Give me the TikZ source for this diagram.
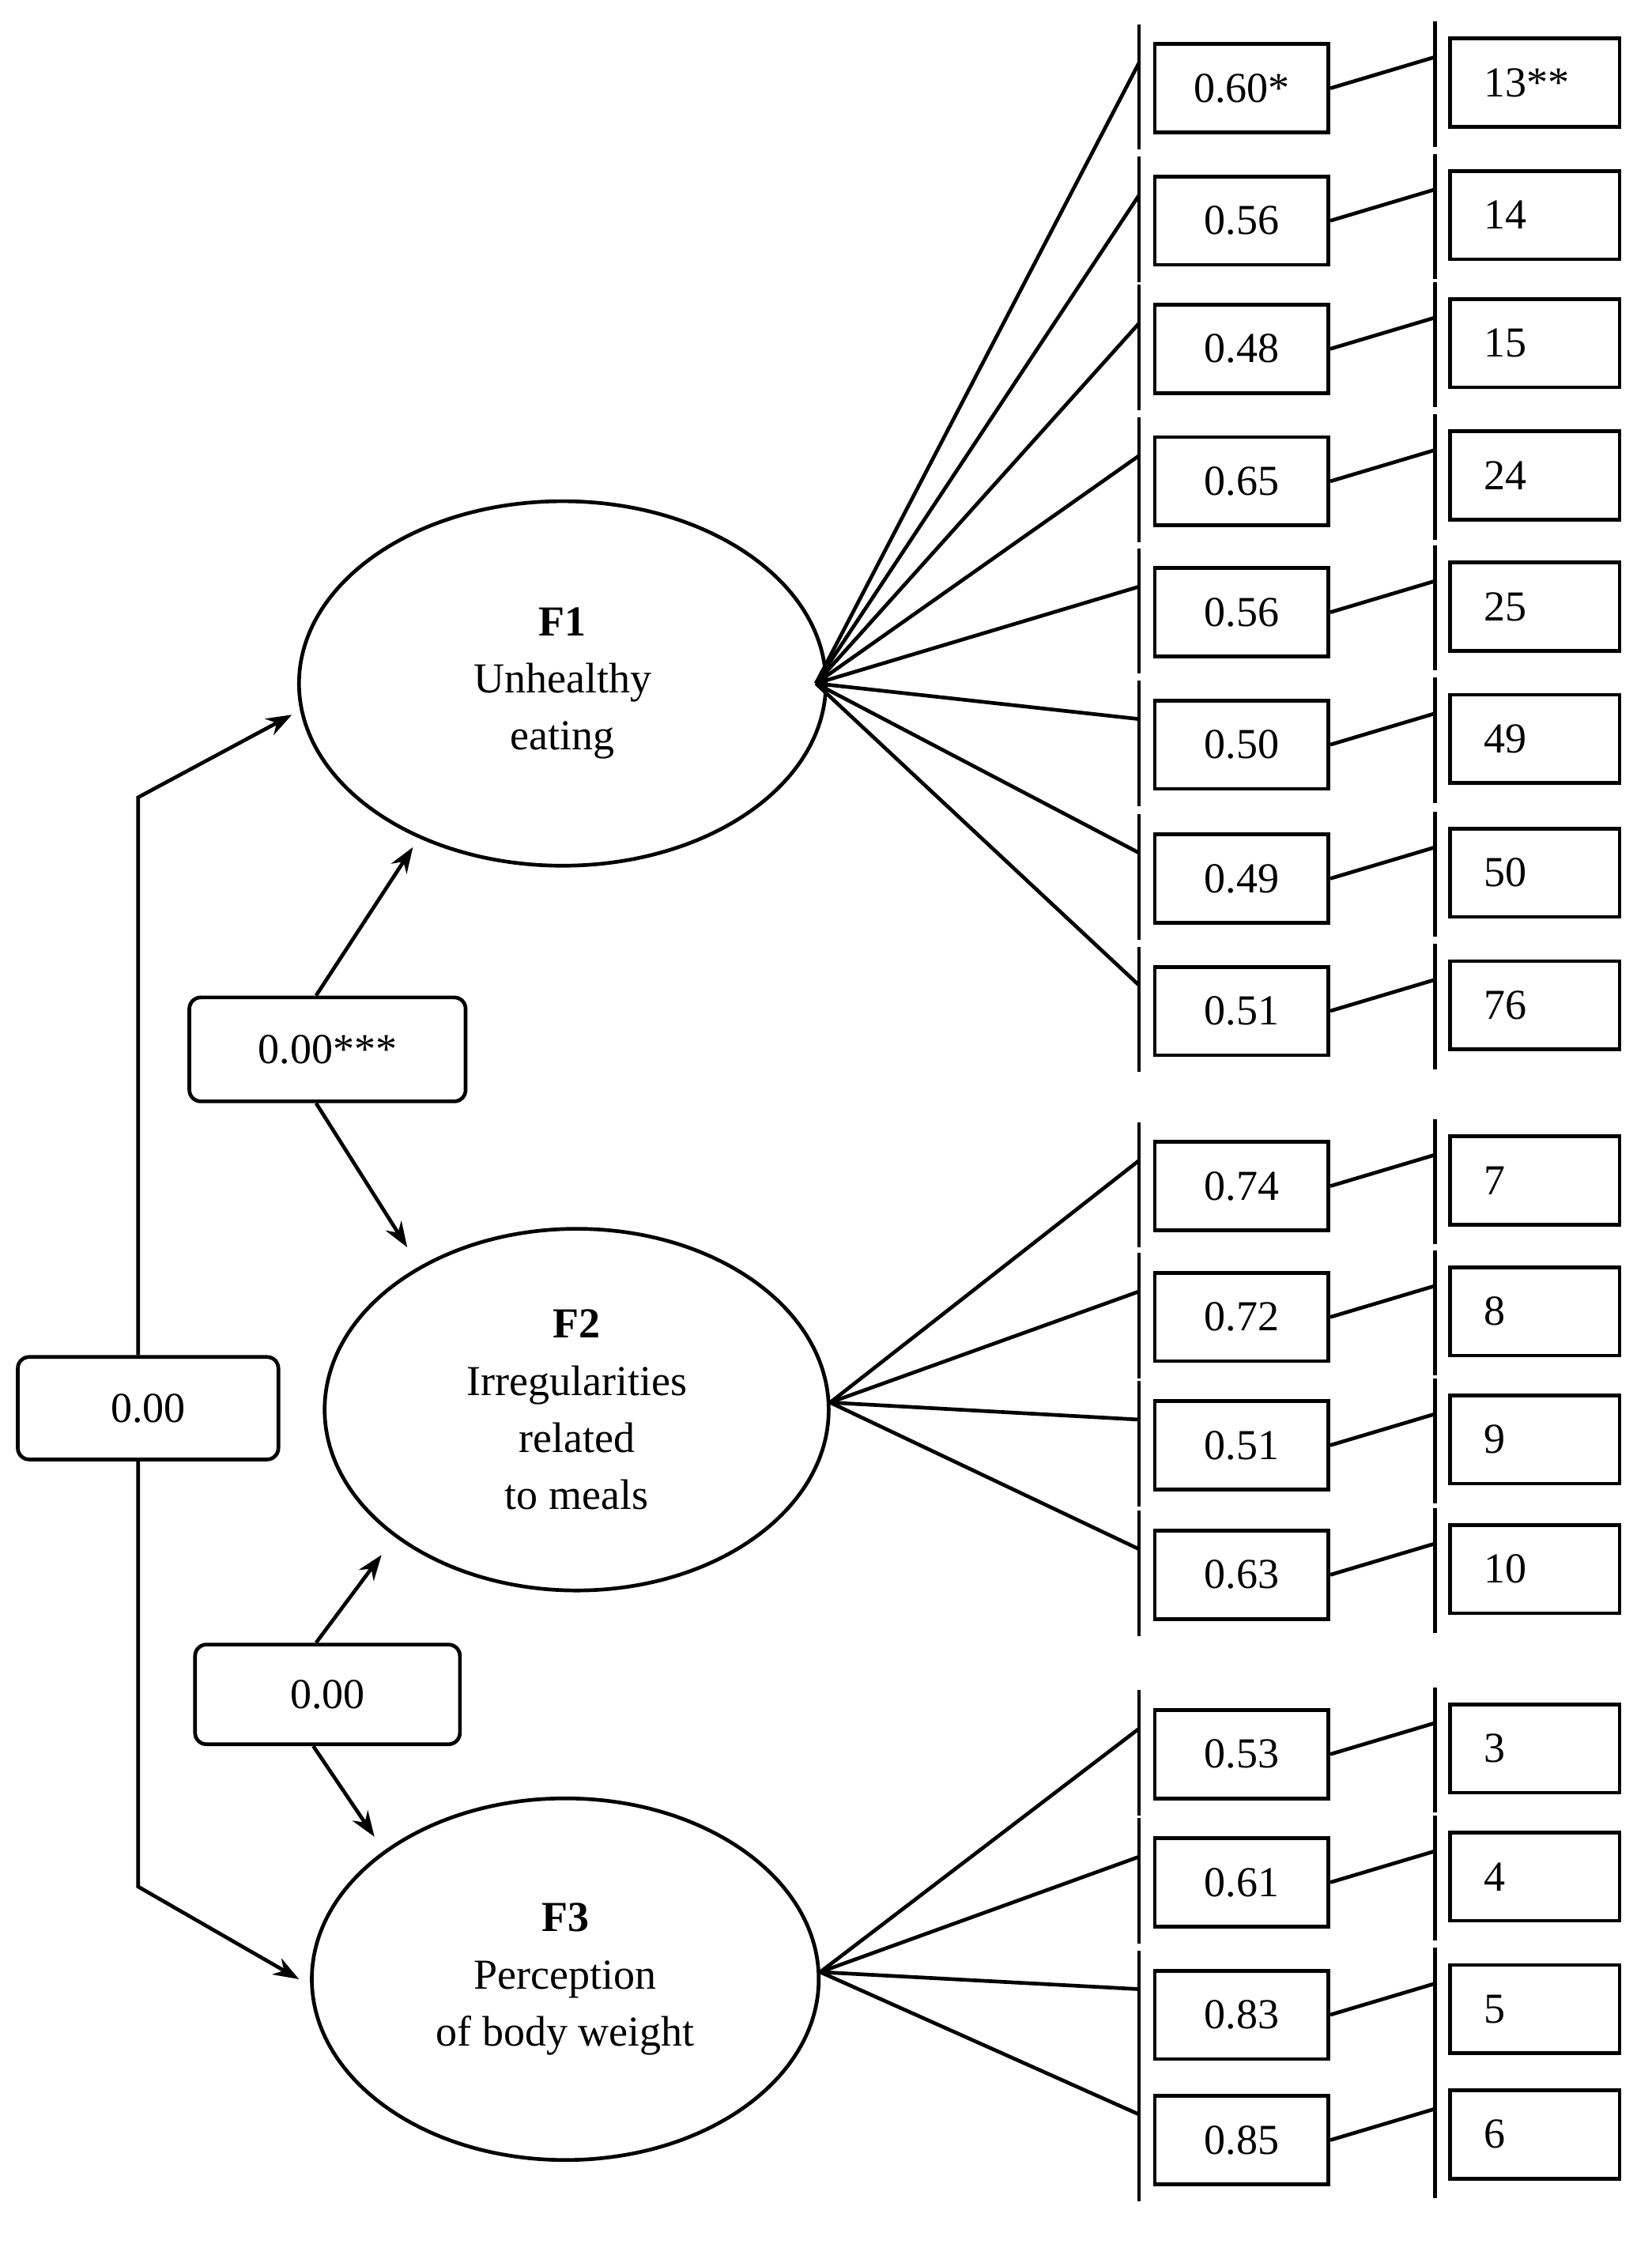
\documentclass[tikz,border=0pt]{standalone}
\usepackage{fontspec}
\setmainfont{Liberation Serif}
\usetikzlibrary{shapes.geometric,arrows.meta}
\begin{document}
\begin{tikzpicture}[x=1pt,y=-1pt,line width=2.6pt,
  fnt/.style={font=\fontsize{30}{34}\selectfont},
  lv/.style={draw,fnt,minimum width=122pt,minimum height=62pt,inner sep=0pt},
  it/.style={draw,fnt,minimum width=119pt,minimum height=62pt,inner sep=0pt,text width=72pt,align=left},
  lat/.style={draw,ellipse,font=\fontsize{30}{40}\selectfont,align=center,inner sep=0pt},
  cor/.style={draw,rounded corners=8pt,fnt,inner sep=0pt},
  arr/.style={-{Stealth[length=18pt,width=13pt]}}]
\useasboundingbox (0,0) rectangle (1160,1576);
\node[lat,minimum width=370pt,minimum height=256pt] (F1) at (395,480) {\textbf{F1}\\Unhealthy\\eating};
\node[lat,minimum width=354pt,minimum height=254pt] (F2) at (405,990) {\textbf{F2}\\Irregularities\\related\\to meals};
\node[lat,minimum width=356pt,minimum height=254pt] (F3) at (397,1390) {\textbf{F3}\\Perception\\of body weight};
\coordinate (p1) at (573,480);
\coordinate (p2) at (583,985);
\coordinate (p3) at (576,1385);
\foreach \y/\l/\r/\k/\g in {62/0.60*/13**/1/1,155/0.56/14/2/1,245/0.48/15/3/1,338/0.65/24/4/1,430/0.56/25/5/1,523/0.50/49/6/1,617/0.49/50/7/1,710/0.51/76/8/1,
  833/0.74/7/9/2,925/0.72/8/10/2,1015/0.51/9/11/2,1106/0.63/10/12/2,
  1232/0.53/3/13/3,1322/0.61/4/14/3,1415/0.83/5/15/3,1503/0.85/6/16/3}{
  \node[lv] (L\k) at (872,\y) {\l};
  \node[it] (R\k) at (1078,\y-4) {\r};
  \coordinate (a\k) at (800,\y-45);
  \coordinate (b\k) at (800,\y+43);
  \coordinate (t\k) at (800,\y-18);
  \coordinate (c\k) at (1008,\y-47);
  \coordinate (d\k) at (1008,\y+41);
  \coordinate (u\k) at (1008,\y-22);
  \draw (a\k) -- (b\k);
  \draw (c\k) -- (d\k);
  \draw (p\g) -- (t\k);
  \draw (L\k.east) -- (u\k);
}
\node[cor,minimum width=194pt,minimum height=73pt] (c12) at (230,737) {0.00***};
\node[cor,minimum width=186pt,minimum height=70pt] (c23) at (230,1190) {0.00};
\node[cor,minimum width=183pt,minimum height=72pt] (c13) at (104,989) {0.00};
\coordinate (e1) at (290,595);
\coordinate (e2) at (286,876);
\coordinate (e3) at (268,1092);
\coordinate (e4) at (263,1290);
\coordinate (e5) at (205,502);
\coordinate (e6) at (210,1390);
\coordinate (k1) at (97,560);
\coordinate (k2) at (97,1325);
\draw[arr] (c12.north -| 222,0) -- (e1);
\draw[arr] (c12.south -| 222,0) -- (e2);
\draw[arr] (c23.north -| 222,0) -- (e3);
\draw[arr] (c23.south -| 220,0) -- (e4);
\draw[arr] (c13.north -| 97,0) -- (k1) -- (e5);
\draw[arr] (c13.south -| 97,0) -- (k2) -- (e6);
\end{tikzpicture}
\end{document}
